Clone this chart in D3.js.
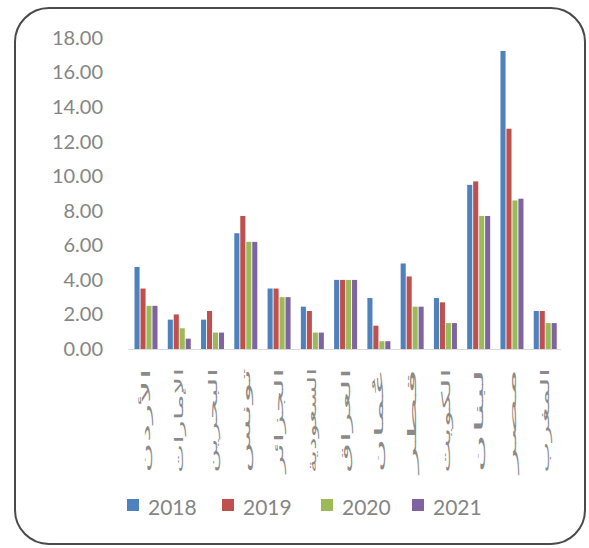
<!DOCTYPE html>
<html><head><meta charset="utf-8">
<script src="https://cdn.jsdelivr.net/npm/d3@7"></script>
<style>body{margin:0;background:#fff}svg{display:block}</style>
</head><body>
<svg id="c" width="589" height="548"></svg>
<script>
const categories = ["الأردن","الإمارات","البحرين","تونس","الجزائر","السعودية","العراق","عُمان","قطر","الكويت","لبنان","مصر","المغرب"];
const seriesNames = ["2018","2019","2020","2021"];
const s2018 = [4.75,1.7,1.7,6.7,3.5,2.45,4.0,2.95,4.95,2.95,9.5,17.25,2.2];
const s2019 = [3.5,2.0,2.2,7.7,3.5,2.2,4.0,1.35,4.2,2.7,9.7,12.75,2.2];
const s2020 = [2.5,1.2,0.95,6.2,3.0,0.95,4.0,0.45,2.45,1.5,7.7,8.6,1.5];
const s2021 = [2.5,0.6,0.95,6.2,3.0,0.95,4.0,0.45,2.45,1.5,7.7,8.7,1.5];
const yTicks = [0,2,4,6,8,10,12,14,16,18];
const colors = ["#4F81BD","#C0504D","#9BBB59","#8064A2"];
const series = [s2018,s2019,s2020,s2021];

const svg = d3.select("#c");
svg.append("rect").attr("x",15).attr("y",8).attr("width",570).attr("height",536)
  .attr("rx",34).attr("ry",34).attr("fill","#fff").attr("stroke","#4a4a4a").attr("stroke-width",2);

const y = d3.scaleLinear().domain([0,18]).range([349,38]);
const x0 = d3.scaleBand().domain(categories).range([128.5,561]).paddingInner(0).paddingOuter(0);
const x1 = d3.scaleBand().domain(seriesNames).range([6,29]).paddingInner(0.15);

svg.append("line").attr("x1",128).attr("x2",561).attr("y1",y(0)+0.5).attr("y2",y(0)+0.5)
  .attr("stroke","#d9d9d9").attr("stroke-width",1);

const yAxis = d3.axisLeft(y).tickValues(yTicks).tickFormat(d3.format(".2f")).tickSize(0).tickPadding(0);
const ga = svg.append("g").attr("transform","translate(103,0)").call(yAxis);
ga.select(".domain").remove();
ga.selectAll("text").attr("font-family","Lato, 'Open Sans', sans-serif").attr("font-size",20)
  .attr("font-weight",400).attr("fill","#858585");

const groups = svg.append("g").selectAll("g").data(categories).join("g")
  .attr("transform",d=>`translate(${x0(d)},0)`);
groups.selectAll("rect").data((d,i)=>series.map((s,k)=>({k,v:s[i]}))).join("rect")
  .attr("x",d=>x1(seriesNames[d.k])).attr("width",x1.bandwidth())
  .attr("y",d=>y(d.v)).attr("height",d=>y(0)-y(d.v)).attr("fill",d=>colors[d.k]);

svg.append("g").selectAll("text").data(categories).join("text")
  .attr("transform",d=>`translate(${x0(d)+x0.bandwidth()/2+1},368) rotate(-90)`)
  .attr("direction","ltr")
  .attr("text-anchor","end").attr("dominant-baseline","central")
  .attr("font-family","'DejaVu Sans', sans-serif").attr("font-size",12)
  .attr("fill","#8a8a8a")
  .attr("textLength",105).attr("lengthAdjust","spacingAndGlyphs")
  .text(d=>d);

const legX = [127,222,321,412];
const leg = svg.append("g").selectAll("g").data(seriesNames).join("g")
  .attr("transform",(d,i)=>`translate(${legX[i]},505)`);
leg.append("rect").attr("x",0).attr("y",-6).attr("width",12).attr("height",12).attr("fill",(d,i)=>colors[i]);
leg.append("text").attr("x",21).attr("y",1).attr("dominant-baseline","central")
  .attr("font-family","Lato, 'Open Sans', sans-serif").attr("font-size",21).attr("font-weight",400)
  .attr("fill","#858585").text(d=>d);
</script>
</body></html>
